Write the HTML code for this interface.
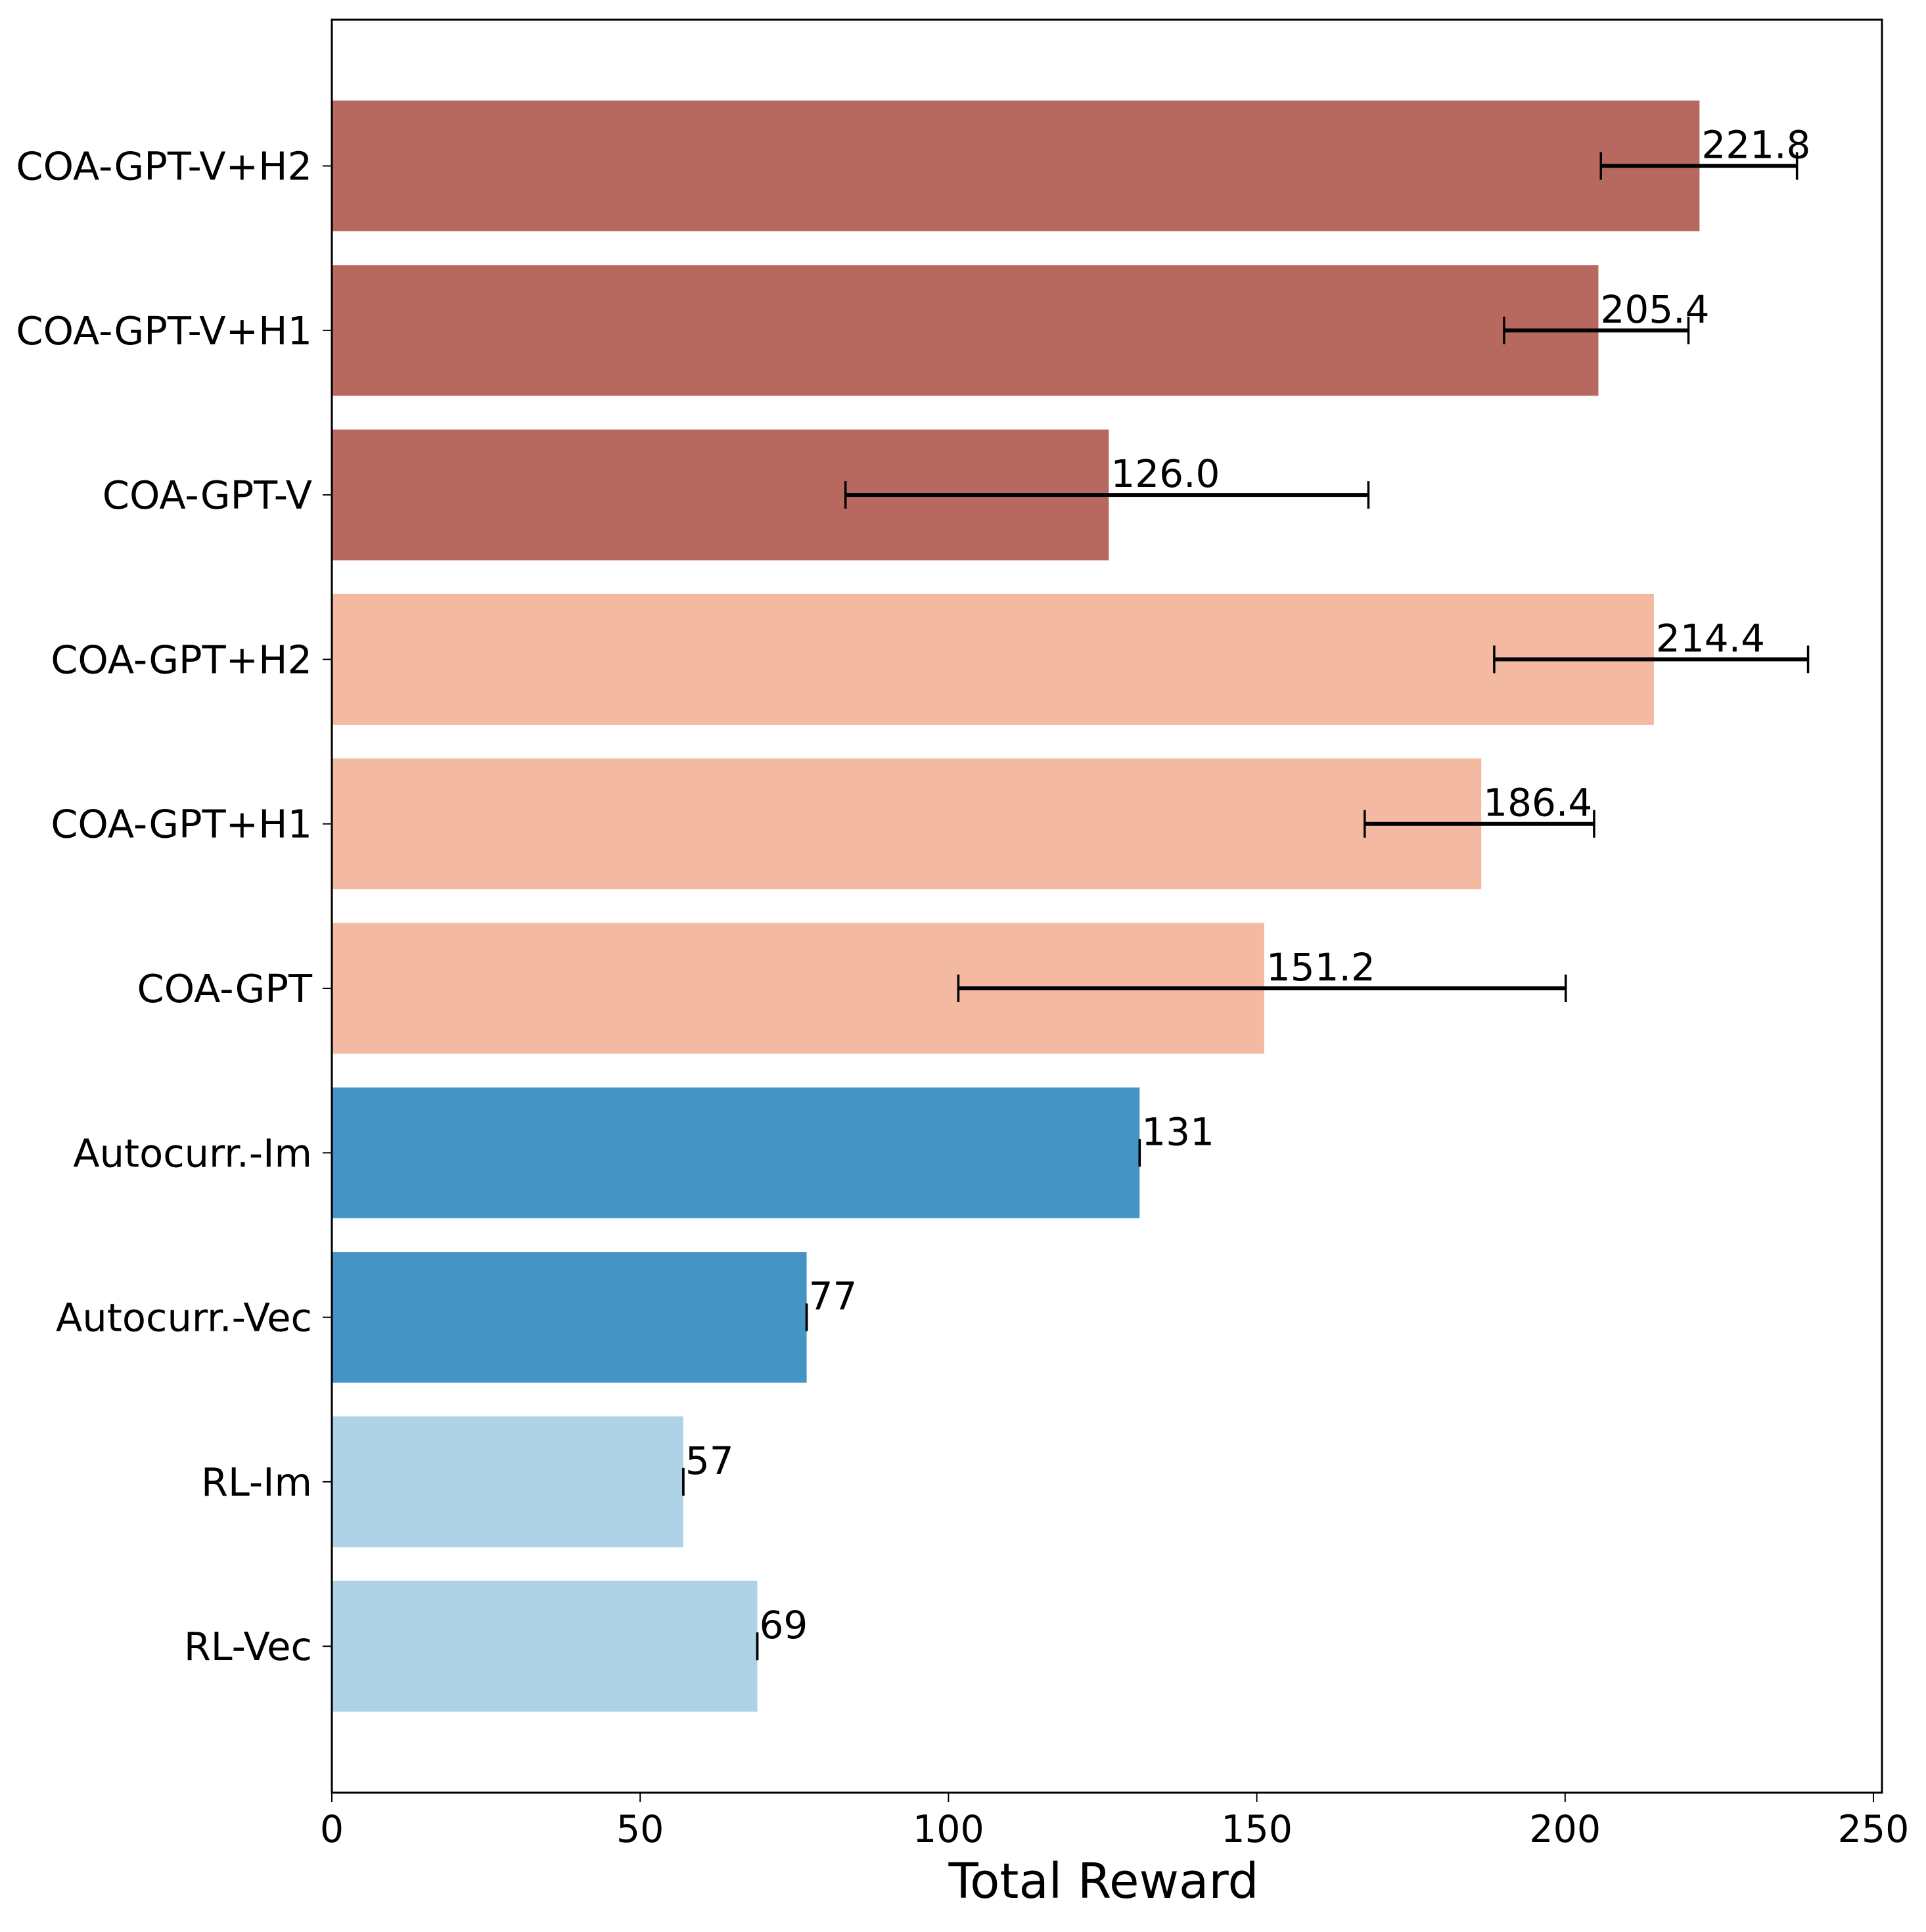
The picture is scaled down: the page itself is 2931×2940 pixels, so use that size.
<!DOCTYPE html>
<html><head><meta charset="utf-8"><style>
html,body{margin:0;padding:0;background:#fff;}
svg text{font-family:"DejaVu Sans","Liberation Sans",sans-serif;fill:#000;}
</style></head><body>
<svg id="chart" width="2931" height="2935" viewBox="0 0 2931 2935" xmlns="http://www.w3.org/2000/svg"></svg>
<script>
const categories = ["COA-GPT-V+H2","COA-GPT-V+H1","COA-GPT-V","COA-GPT+H2","COA-GPT+H1","COA-GPT","Autocurr.-Im","Autocurr.-Vec","RL-Im","RL-Vec"];
const values = [221.8,205.4,126.0,214.4,186.4,151.2,131,77,57,69];
const valueLabels = ["221.8","205.4","126.0","214.4","186.4","151.2","131","77","57","69"];
const errLow = [205.8,190.1,83.3,188.5,167.5,101.6,131,77,57,69];
const errHigh = [237.6,220.0,168.1,239.4,204.7,200.1,131,77,57,69];
const colors = ["#b8695f","#b8695f","#b8695f","#f4b9a1","#f4b9a1","#f4b9a1","#4594c4","#4594c4","#aed3e6","#aed3e6"];
const xTicks = [0,50,100,150,200,250];

const svg = document.getElementById('chart');
const NS = "http://www.w3.org/2000/svg";
const L=505, R=2864, T=30, B=2728;
const xs = v => L + v*(2851-L)/250;
const ys = i => 252.5 + i*250.3;
const BH = 199;
function mk(tag, attrs, text){
  const e=document.createElementNS(NS,tag);
  for(const k in attrs) e.setAttribute(k,attrs[k]);
  if(text!==undefined) e.textContent=text;
  svg.appendChild(e); return e;
}
categories.forEach((c,i)=>{
  const y=ys(i);
  const bar=mk('rect',{x:L,y:y-BH/2,width:xs(values[i])-L,height:BH,fill:colors[i]});
  
  
  const lab=mk('text',{x:L-30,y:y+21,'font-size':59,'text-anchor':'end'},c);
  
  
  mk('line',{x1:L-14,x2:L,y1:y,y2:y,stroke:'#000','stroke-width':2});
  const g=document.createElementNS(NS,'g');
  
  
  svg.appendChild(g);
  const a=xs(errLow[i]), b=xs(errHigh[i]);
  [['line',{x1:a,x2:b,y1:y,y2:y,stroke:'#000','stroke-width':6}],
   ['line',{x1:a,x2:a,y1:y-21,y2:y+21,stroke:'#000','stroke-width':3.5}],
   ['line',{x1:b,x2:b,y1:y-21,y2:y+21,stroke:'#000','stroke-width':3.5}]].forEach(([t,at])=>{
    const e=document.createElementNS(NS,t); for(const k in at) e.setAttribute(k,at[k]); g.appendChild(e);});
  const vl=mk('text',{x:xs(values[i])+3,y:y-12,'font-size':58},valueLabels[i]);
  
  
});
const frame=mk('rect',{x:L,y:T,width:R-L,height:B-T,fill:'none',stroke:'#000','stroke-width':3});


xTicks.forEach(t=>{
  const x=xs(t);
  mk('line',{x1:x,x2:x,y1:B,y2:B+14,stroke:'#000','stroke-width':2});
  const tl=mk('text',{x:x,y:2803,'font-size':57,'text-anchor':'middle'},String(t));
  
  
});
const xt=mk('text',{x:(L+R)/2-5,y:2888,'font-size':74,'text-anchor':'middle'},'Total Reward');


</script>
</body></html>
